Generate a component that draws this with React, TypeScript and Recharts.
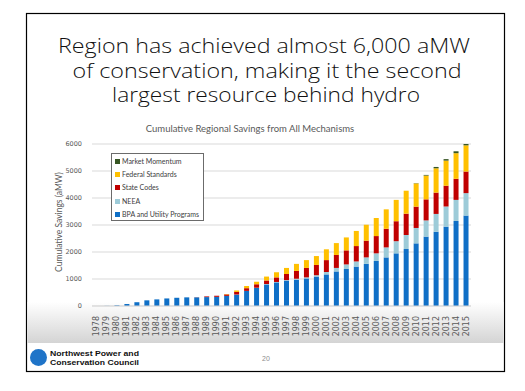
import React from 'react';
import { BarChart, Bar, XAxis, YAxis, CartesianGrid } from 'recharts';

const years = [
  '1978','1979','1980','1981','1982','1983','1984','1985','1986','1987',
  '1988','1989','1990','1991','1992','1993','1994','1995','1996','1997',
  '1998','1999','2000','2001','2002','2003','2004','2005','2006','2007',
  '2008','2009','2010','2011','2012','2013','2014','2015',
];

const bpaUtility = [
  0, 5, 25, 70, 140, 210, 245, 280, 305, 320,
  320, 330, 340, 375, 420, 555, 670, 800, 875, 940,
  975, 1020, 1090, 1170, 1280, 1370, 1460, 1560, 1670, 1800,
  1950, 2110, 2320, 2570, 2750, 2940, 3150, 3350,
];

const neea = [
  0, 0, 0, 0, 0, 0, 0, 0, 0, 0,
  0, 0, 0, 0, 5, 5, 10, 15, 15, 20,
  35, 40, 50, 90, 130, 170, 190, 240, 280, 370,
  450, 520, 570, 600, 660, 745, 780, 830,
];

const stateCodes = [
  0, 0, 0, 0, 0, 0, 0, 0, 0, 0,
  5, 25, 40, 55, 95, 100, 125, 130, 170, 225,
  290, 350, 380, 440, 480, 520, 570, 620, 640, 690,
  740, 790, 790, 780, 790, 770, 780, 800,
];

const federalStandards = [
  0, 0, 0, 0, 0, 0, 0, 0, 0, 0,
  0, 0, 0, 15, 55, 80, 95, 145, 190, 225,
  260, 290, 330, 400, 440, 480, 560, 590, 670, 720,
  790, 850, 860, 880, 900, 930, 950, 970,
];

const marketMomentum = [
  0, 0, 0, 0, 0, 0, 0, 0, 0, 0,
  0, 0, 0, 0, 0, 0, 0, 0, 0, 0,
  0, 0, 0, 0, 0, 0, 0, 0, 0, 0,
  0, 0, 10, 25, 50, 55, 70, 50,
];

const seriesKeys = ['bpa', 'neea', 'state', 'federal', 'momentum'];
const seriesNames = ['BPA and Utility Programs', 'NEEA', 'State Codes', 'Federal Standards', 'Market Momentum'];
const seriesColors = ['#0F6FC6', '#9DCBD8', '#C00000', '#FFC000', '#375623'];
const yTicks = [0, 1000, 2000, 3000, 4000, 5000, 6000];

const titleLines = [
  'Region has achieved almost 6,000 aMW',
  'of conservation, making it the second',
  'largest resource behind hydro',
];
const chartTitle = 'Cumulative Regional Savings from All Mechanisms';
const yAxisLabel = 'Cumulative Savings (aMW)';
const footerLines = ['Northwest Power and', 'Conservation Council'];
const pageNumber = '20';

const data = years.map((year, i) => ({
  year,
  bpa: bpaUtility[i],
  neea: neea[i],
  state: stateCodes[i],
  federal: federalStandards[i],
  momentum: marketMomentum[i],
}));

const XTick = (props: any) => {
  const { x, y, payload } = props;
  const ty = y + 2;
  return (
    <text
      x={x}
      y={ty}
      transform={`rotate(-90, ${x}, ${ty})`}
      textAnchor="end"
      dominantBaseline="central"
      fontSize={8}
      fontFamily="DejaVu Sans"
      fill="#595959"
    >
      {payload.value}
    </text>
  );
};

const legendOrder = [4, 3, 2, 1, 0];

const LegendBox = () => (
  <div
    style={{
      position: 'absolute',
      left: 111,
      top: 153,
      border: '1px solid #6b6b6b',
      width: 93,
      height: 68,
      boxSizing: 'border-box',
      padding: '1px 0 0 3px',
      background: '#fff',
      fontFamily: 'Lato',
      fontSize: 7,
      lineHeight: '7px',
      color: '#404040',
    }}
  >
    {legendOrder.map((i) => (
      <div key={seriesNames[i]} style={{ display: 'flex', alignItems: 'center', height: 13.2 }}>
        <span style={{ display: 'inline-block', width: 5, height: 5, background: seriesColors[i], marginRight: 2 }} />
        <span>{seriesNames[i]}</span>
      </div>
    ))}
  </div>
);

export default function App() {
  return (
    <div style={{ position: 'absolute', left: 0, top: 0, width: 525, height: 391, background: '#fff' }}>
      <svg width={525} height={391} style={{ position: 'absolute', left: 0, top: 0 }}>
        <defs>
          <linearGradient id="band" x1="0" y1="0" x2="0" y2="1">
            <stop offset="0" stopColor="#ffffff" />
            <stop offset="1" stopColor="#d4d4d4" />
          </linearGradient>
        </defs>
        <rect x={26.5} y={13.5} width={478} height={358} fill="#fff" stroke="#000" strokeWidth={1.2} />
        <rect x={27.5} y={302} width={476} height={41} fill="url(#band)" />
        {titleLines.map((t, i) => (
          <text
            key={i}
            x={[264, 267, 266][i]}
            y={53 + i * 24.5}
            textAnchor="middle"
            fontFamily="Open Sans"
            fontWeight={300}
            fontSize={20}
            fill="#111"
            textLength={[412, 389, 308][i]}
            lengthAdjust="spacingAndGlyphs"
          >
            {t}
          </text>
        ))}
        <text x={250} y={132} textAnchor="middle" fontFamily="Lato" fontSize={9.5} fill="#595959">
          {chartTitle}
        </text>
        <text
          x={59}
          y={222}
          transform="rotate(-90, 59, 222)"
          textAnchor="middle"
          dominantBaseline="central"
          fontFamily="Lato"
          fontSize={8.5}
          fill="#595959"
        >
          {yAxisLabel}
        </text>
        <circle cx={38.5} cy={357.5} r={8.5} fill="#1F74C8" />
        <text x={50} y={355.5} fontFamily="Liberation Sans" fontWeight="bold" fontSize={8} fill="#111" textLength={89} lengthAdjust="spacingAndGlyphs">
          {footerLines[0]}
        </text>
        <text x={50} y={364.5} fontFamily="Liberation Sans" fontWeight="bold" fontSize={8} fill="#111" textLength={89} lengthAdjust="spacingAndGlyphs">
          {footerLines[1]}
        </text>
        <text x={266} y={360.5} textAnchor="middle" fontFamily="Liberation Sans" fontSize={7} fill="#8c8c8c">
          {pageNumber}
        </text>
      </svg>
      <div style={{ position: 'absolute', left: 0, top: 0 }}>
        <BarChart
          width={525}
          height={391}
          data={data}
          margin={{ top: 144, right: 54, bottom: 60, left: 52 }}
          barCategoryGap="25%"
        >
          <CartesianGrid vertical={false} stroke="#d9d9d9" />
          <XAxis
            dataKey="year"
            interval={0}
            height={25}
            tick={<XTick />}
            tickLine={false}
            axisLine={{ stroke: '#d9d9d9' }}
          />
          <YAxis
            width={40}
            domain={[0, 6000]}
            ticks={yTicks}
            tickLine={false}
            axisLine={false}
            tick={{ fontSize: 6.5, fontFamily: 'DejaVu Sans', fill: '#595959' }}
            tickMargin={4}
          />
          {seriesKeys.map((k, i) => (
            <Bar
              key={k}
              dataKey={k}
              name={seriesNames[i]}
              stackId="a"
              fill={seriesColors[i]}
              isAnimationActive={false}
            />
          ))}
        </BarChart>
      </div>
      <LegendBox />
    </div>
  );
}
